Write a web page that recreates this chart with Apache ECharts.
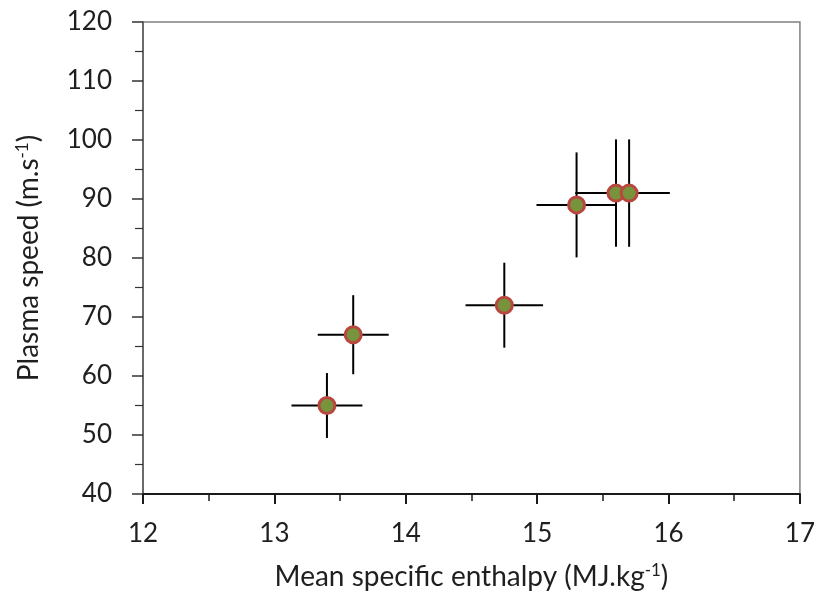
<!DOCTYPE html>
<html>
<head>
<meta charset="utf-8">
<script src="https://cdn.jsdelivr.net/npm/echarts@6/dist/echarts.min.js"></script>
<style>html,body{margin:0;padding:0;background:#fff}#c{width:818px;height:596px}</style>
</head>
<body>
<div id="c"></div>
<script>
// Data
const xVals = [13.4, 13.6, 14.75, 15.3, 15.6, 15.7];
const yVals = [55, 67, 72, 89, 91, 91];
const xErr = [0.27, 0.27, 0.295, 0.305, 0.31, 0.31];
const yErr = [5.5, 6.7, 7.2, 8.9, 9.1, 9.1];
const xTicks = { min: 12, max: 17, interval: 1 };
const yTicks = { min: 40, max: 120, interval: 10 };

const pts = xVals.map((x, i) => [x, yVals[i]]);
const errData = xVals.map((x, i) => [x, yVals[i], xErr[i], yErr[i]]);

const chart = echarts.init(document.getElementById('c'), null, { renderer: 'canvas' });
const font = 'Lato, "Open Sans", sans-serif';
const sup = { fontFamily: font, fontSize: 17, color: '#1f1f1f', verticalAlign: 'top', padding: [0, 0, 12, 0] };
chart.setOption({
  animation: false,
  backgroundColor: '#fff',
  grid: { left: 143, top: 22, right: 18, bottom: 102, show: true, borderColor: '#808080', borderWidth: 1.5 },
  xAxis: {
    type: 'value', min: xTicks.min, max: xTicks.max, interval: xTicks.interval,
    name: 'Mean specific enthalpy (MJ.kg{s|-1})',
    nameLocation: 'middle', nameGap: 68,
    nameTextStyle: { fontFamily: font, fontSize: 28, color: '#1f1f1f', rich: { s: sup } },
    axisLine: { show: true, lineStyle: { color: '#1a1a1a', width: 2 } },
    axisTick: { show: true, inside: false, length: 10, lineStyle: { color: '#1a1a1a', width: 2 } },
    minorTick: { show: true, splitNumber: 2, length: 7, lineStyle: { color: '#1a1a1a', width: 1.5 } },
    splitLine: { show: false },
    axisLabel: { fontFamily: font, fontSize: 26, color: '#1f1f1f', margin: 27 }
  },
  yAxis: {
    type: 'value', min: yTicks.min, max: yTicks.max, interval: yTicks.interval,
    name: 'Plasma speed (m.s{s|-1})',
    nameLocation: 'middle', nameGap: 100, nameRotate: 90,
    nameTextStyle: { fontFamily: font, fontSize: 28, color: '#1f1f1f', rich: { s: sup } },
    axisLine: { show: true, lineStyle: { color: '#595959', width: 1.5 } },
    axisTick: { show: true, inside: false, length: 11, lineStyle: { color: '#333', width: 1.5 } },
    minorTick: { show: true, splitNumber: 2, length: 8, lineStyle: { color: '#333', width: 1.2 } },
    splitLine: { show: false },
    axisLabel: { fontFamily: font, fontSize: 26, color: '#1f1f1f', margin: 31 }
  },
  series: [
    {
      type: 'custom',
      data: errData,
      z: 2,
      renderItem: function (params, api) {
        const x = api.value(0), y = api.value(1), ex = api.value(2), ey = api.value(3);
        const l = api.coord([x - ex, y]), r = api.coord([x + ex, y]);
        const t = api.coord([x, y + ey]), b = api.coord([x, y - ey]);
        const st = { stroke: '#000', lineWidth: 2 };
        return {
          type: 'group',
          children: [
            { type: 'line', shape: { x1: l[0], y1: l[1], x2: r[0], y2: r[1] }, style: st },
            { type: 'line', shape: { x1: t[0], y1: t[1], x2: b[0], y2: b[1] }, style: st }
          ]
        };
      }
    },
    {
      type: 'scatter',
      data: pts,
      z: 5,
      symbol: 'circle',
      symbolSize: 16,
      itemStyle: { color: '#77933C', borderColor: '#B8473F', borderWidth: 3, opacity: 1 }
    }
  ]
});
</script>
</body>
</html>
